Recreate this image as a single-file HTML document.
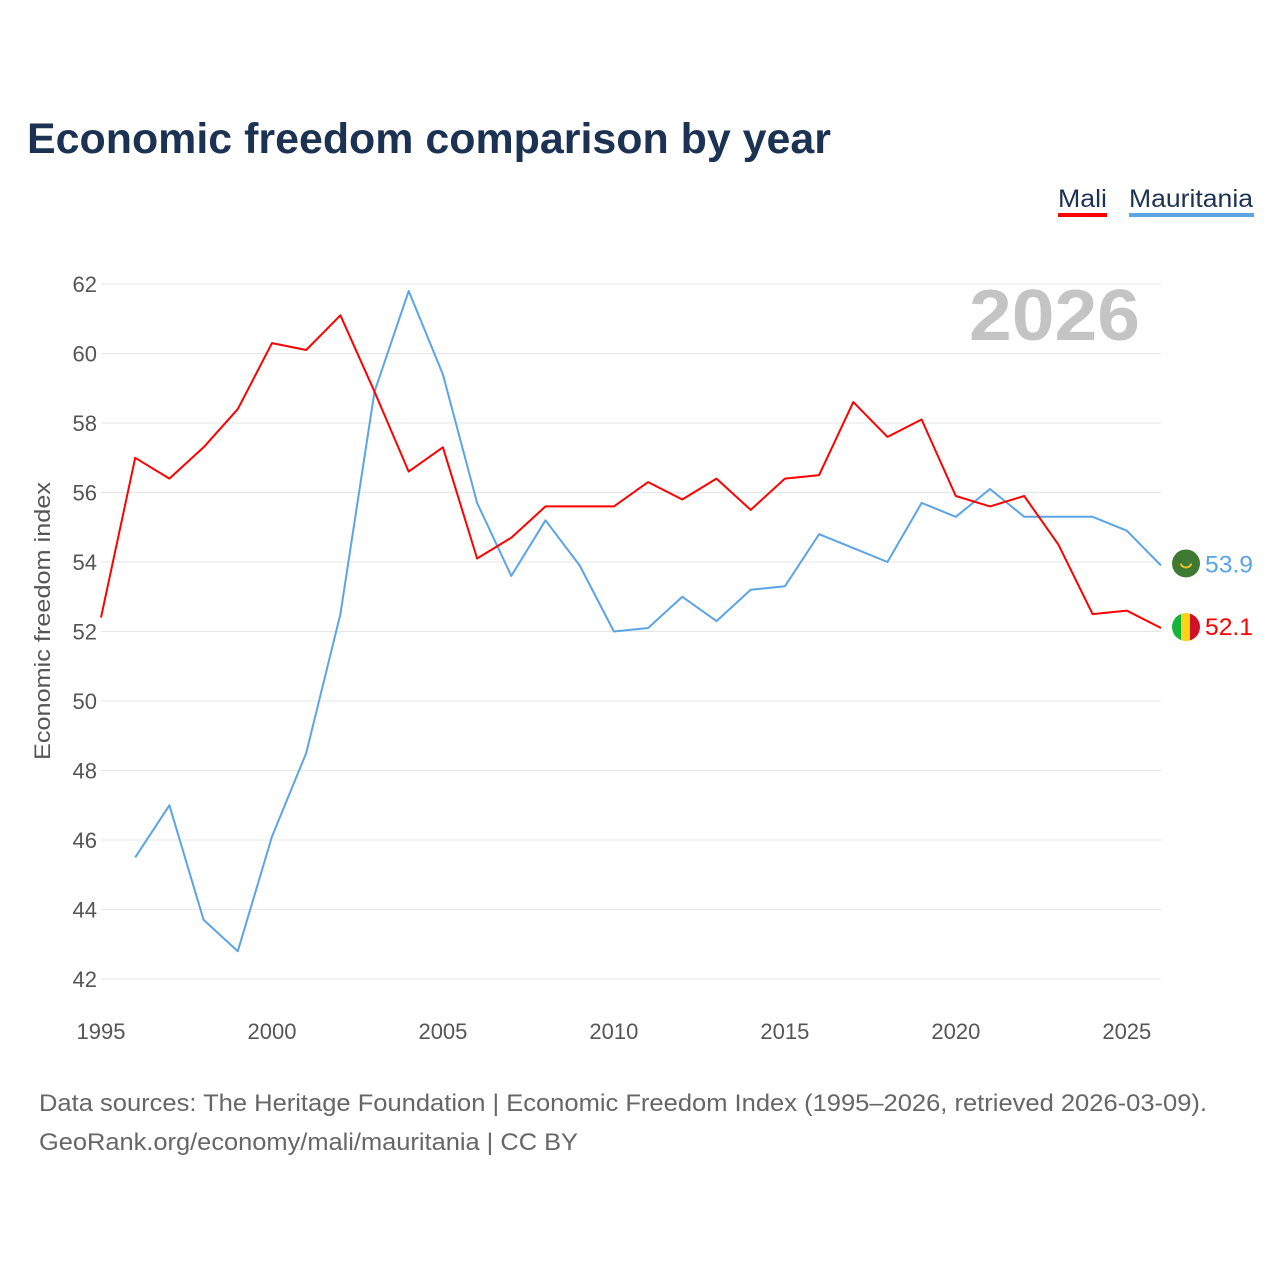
<!DOCTYPE html>
<html><head><meta charset="utf-8"><style>
body{margin:0;background:#fff;font-family:"Liberation Sans",sans-serif;}
#wrap{position:relative;width:1280px;height:1280px;overflow:hidden;}
</style></head><body>
<div id="wrap">
<svg id="chart" width="1280" height="1280"></svg>
</div>
<script>
const years = [1995,1996,1997,1998,1999,2000,2001,2002,2003,2004,2005,2006,2007,2008,2009,2010,2011,2012,2013,2014,2015,2016,2017,2018,2019,2020,2021,2022,2023,2024,2025,2026];
const mali = [52.4,57.0,56.4,57.3,58.4,60.3,60.1,61.1,58.9,56.6,57.3,54.1,54.7,55.6,55.6,55.6,56.3,55.8,56.4,55.5,56.4,56.5,58.6,57.6,58.1,55.9,55.6,55.9,54.5,52.5,52.6,52.1];
const mauritania = [null,45.5,47.0,43.7,42.8,46.1,48.5,52.5,58.9,61.8,59.4,55.7,53.6,55.2,53.9,52.0,52.1,53.0,52.3,53.2,53.3,54.8,54.4,54.0,55.7,55.3,56.1,55.3,55.3,55.3,54.9,53.9];
const yTicks = [42,44,46,48,50,52,54,56,58,60,62];
const xTicks = [1995,2000,2005,2010,2015,2020,2025];

const NS="http://www.w3.org/2000/svg";
const svg=document.getElementById('chart');
const X=y=>101+(y-1995)*(1161-101)/31;
const Y=v=>284+(62-v)*(979-284)/20;
function el(tag,attrs,parent){const e=document.createElementNS(NS,tag);for(const k in attrs)e.setAttribute(k,attrs[k]);(parent||svg).appendChild(e);return e;}
function txt(s,attrs){const e=el('text',attrs);e.textContent=s;return e;}

let t=txt('Economic freedom comparison by year',{x:27,y:153,'font-size':43,'font-weight':'bold',fill:'#1b3252',textLength:804,lengthAdjust:'spacingAndGlyphs'});



// legend
t=txt('Mali',{x:1058,y:207,'font-size':25,fill:'#1b3252',textLength:49,lengthAdjust:'spacingAndGlyphs'});


el('rect',{x:1058,y:213,width:49,height:4,fill:'#ff0000'});
t=txt('Mauritania',{x:1129,y:207,'font-size':25,fill:'#1b3252',textLength:124,lengthAdjust:'spacingAndGlyphs'});


el('rect',{x:1129,y:213,width:125,height:4,fill:'#5ba4e6'});

yTicks.forEach(v=>{
  const l=el('line',{x1:101,x2:1161,y1:Y(v),y2:Y(v),stroke:'#e6e6e6','stroke-width':1});
  
  
  const tt=txt(String(v),{x:97,y:Y(v)+8,'font-size':22,fill:'#555','text-anchor':'end'});
  
  
});
xTicks.forEach(v=>{
  const tt=txt(String(v),{x:X(v),y:1039,'font-size':22,fill:'#555','text-anchor':'middle'});
  
  
});
t=txt('Economic freedom index',{x:0,y:0,'font-size':22,fill:'#555','text-anchor':'middle',textLength:278,lengthAdjust:'spacingAndGlyphs',transform:'translate(50,621) rotate(-90)'});



t=txt('2026',{x:969,y:340,'font-size':72,'font-weight':'bold',fill:'#c4c4c4',textLength:171,lengthAdjust:'spacingAndGlyphs'});



function line(data,color,name){
  let d='';let started=false;
  data.forEach((v,i)=>{if(v==null)return;d+=(started?'L':'M')+X(years[i]).toFixed(1)+','+Y(v).toFixed(1);started=true;});
  const p=el('path',{d:d,fill:'none',stroke:color,'stroke-width':2,'stroke-linejoin':'round'});
  
  
}
line(mauritania,'#5ba4e6','mauritania-line');
line(mali,'#ff0000','mali-line');

// end markers
const mv=mauritania[mauritania.length-1], lv=mali[mali.length-1];
let g=el('g',{});


el('circle',{cx:1186,cy:Y(mv)-2,r:14,fill:'#3f7a32'},g);
el('path',{d:`M1181,${Y(mv)-2} a5,4 0 0 0 10,0`,fill:'none',stroke:'#e8c22a','stroke-width':2},g);
t=txt(mv.toFixed(1),{x:1205,y:Y(mv)+7,'font-size':24,fill:'#5ba4e6',textLength:48,lengthAdjust:'spacingAndGlyphs'});



g=el('g',{});


const cy=Y(lv)-1;
const cp=el('clipPath',{id:'mc'},g);
el('circle',{cx:1186,cy:cy,r:14},cp);
el('rect',{x:1172,y:cy-14,width:10,height:28,fill:'#14b53a','clip-path':'url(#mc)'},g);
el('rect',{x:1181,y:cy-14,width:10,height:28,fill:'#fcd116','clip-path':'url(#mc)'},g);
el('rect',{x:1190,y:cy-14,width:10,height:28,fill:'#ce1126','clip-path':'url(#mc)'},g);
t=txt(lv.toFixed(1),{x:1205,y:cy+8,'font-size':24,fill:'#ff0000',textLength:48,lengthAdjust:'spacingAndGlyphs'});



t=txt('Data sources: The Heritage Foundation | Economic Freedom Index (1995–2026, retrieved 2026-03-09).',{x:39,y:1111,'font-size':24,fill:'#666',textLength:1168,lengthAdjust:'spacingAndGlyphs'});


t=txt('GeoRank.org/economy/mali/mauritania | CC BY',{x:39,y:1150,'font-size':24,fill:'#666',textLength:539,lengthAdjust:'spacingAndGlyphs'});


</script>
</body></html>
